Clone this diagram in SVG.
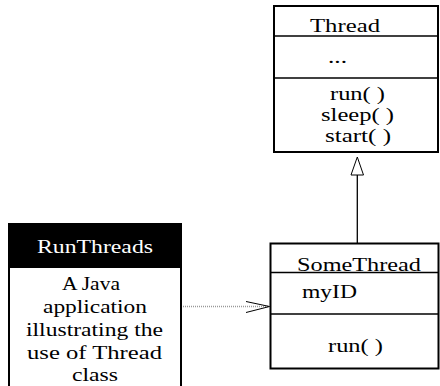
<svg xmlns="http://www.w3.org/2000/svg" width="440" height="386" viewBox="0 0 440 386">
<style>
.box{fill:#fff;stroke:#000;stroke-width:2}
.div{stroke:#000;stroke-width:1.5}
.t{font-family:"Liberation Serif","Times New Roman",serif;fill:#000}
.s{font-size:18.5px}
.b{font-size:19.5px}
</style>
<rect width="440" height="386" fill="#fff"/>
<g id="connectors">
<line x1="357.3" y1="175" x2="357.3" y2="243" stroke="#000" stroke-width="1.3"/>
<polygon points="357.3,157 351,175 363.5,175" fill="#fff" stroke="#000" stroke-width="1"/>
<line x1="183" y1="306.5" x2="269" y2="306.5" stroke="#999" stroke-width="1.3" stroke-dasharray="1,1"/>
<polyline points="246,301.5 269.5,306.5 246,312.5" fill="none" stroke="#000" stroke-width="1"/>
</g>
<g id="thread">
<rect class="box" x="274" y="6" width="164" height="146"/>
<line class="div" x1="274" y1="36" x2="438" y2="36"/>
<line class="div" x1="274" y1="78" x2="438" y2="78"/>
<text class="t s" x="310" y="32" textLength="70" lengthAdjust="spacingAndGlyphs">Thread</text>
<text class="t s" x="328" y="63" textLength="19" lengthAdjust="spacingAndGlyphs">...</text>
<text class="t s" x="330" y="100" textLength="55" lengthAdjust="spacingAndGlyphs">run( )</text>
<text class="t s" x="321" y="121" textLength="73" lengthAdjust="spacingAndGlyphs">sleep( )</text>
<text class="t s" x="325" y="142" textLength="66" lengthAdjust="spacingAndGlyphs">start( )</text>
</g>
<g id="somethread">
<rect class="box" x="270.5" y="243.5" width="168" height="125"/>
<line class="div" x1="270.5" y1="272.5" x2="438.5" y2="272.5"/>
<line class="div" x1="270.5" y1="314" x2="438.5" y2="314"/>
<text class="t s" x="297" y="271" textLength="124" lengthAdjust="spacingAndGlyphs">SomeThread</text>
<text class="t s" x="302" y="298" textLength="55" lengthAdjust="spacingAndGlyphs">myID</text>
<text class="t s" x="328" y="352" textLength="55" lengthAdjust="spacingAndGlyphs">run( )</text>
</g>
<g id="runthreads">
<rect class="box" x="9" y="224" width="172" height="170"/>
<rect x="8" y="224" width="174" height="44" fill="#000"/>
<text class="t" x="37" y="253" font-size="18" style="fill:#fff" textLength="116" lengthAdjust="spacingAndGlyphs">RunThreads</text>
<text class="t b" x="62" y="290" textLength="58" lengthAdjust="spacingAndGlyphs">A Java</text>
<text class="t b" x="43" y="313" textLength="104" lengthAdjust="spacingAndGlyphs">application</text>
<text class="t b" x="26" y="336" textLength="137" lengthAdjust="spacingAndGlyphs">illustrating the</text>
<text class="t b" x="27" y="359" textLength="135" lengthAdjust="spacingAndGlyphs">use of Thread</text>
<text class="t b" x="72" y="381" textLength="46" lengthAdjust="spacingAndGlyphs">class</text>
</g>
</svg>
